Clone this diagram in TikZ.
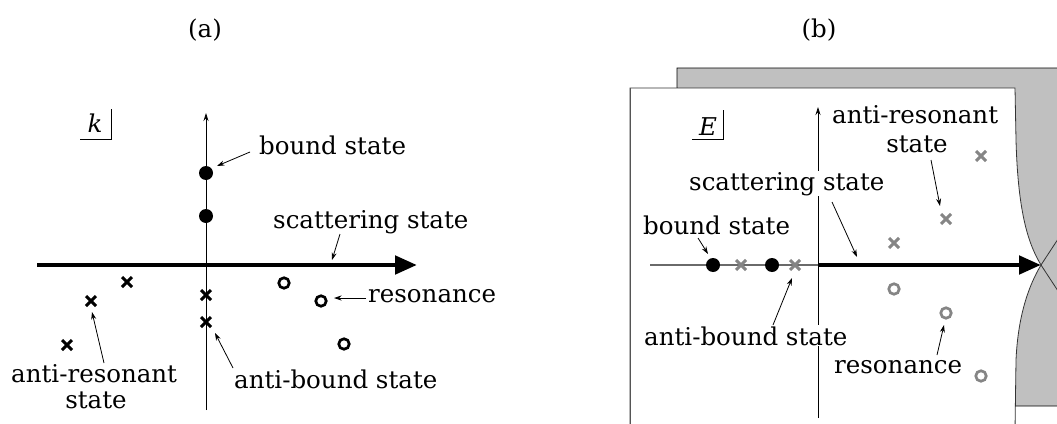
\documentclass[tikz,border=0pt]{standalone}
\usepackage{fontspec}
\setmainfont{DejaVu Serif}
\usetikzlibrary{arrows.meta,shapes.misc}
\definecolor{mk}{HTML}{858585}
\definecolor{sheet}{HTML}{C0C0C0}
\definecolor{edge}{HTML}{555555}
\begin{document}
\begin{tikzpicture}[x=1pt,y=-1pt,
  lbl/.style={font=\fontsize{24.5}{28}\selectfont, inner sep=1pt},
  wlbl/.style={lbl, fill=white},
  dot/.style={circle, fill=black, minimum size=14pt, inner sep=0pt},
  xmark/.style={cross out, draw, line width=3pt, minimum size=7pt, inner sep=0pt},
  omark/.style={circle, draw, line width=2.7pt, minimum size=10.5pt, inner sep=0pt},
  ptr/.style={-{Stealth[length=7.5pt,width=5pt]}, line width=0.8pt},
  axis/.style={-{Stealth[length=8pt,width=5pt]}, line width=0.8pt},
  bigarrow/.style={-{Triangle[length=22pt,width=18pt]}, line width=4.8pt},
]
\useasboundingbox (0,0) rectangle (1057,423);
\begin{scope}
\clip (0,0) rectangle (1057,423);
% ---------- panel labels
\node[lbl, anchor=base] (ta) at (205,37) {(a)};
\node[lbl, anchor=base] (tb) at (819,37) {(b)};

% ================= panel (a) =================
\coordinate (aybot) at (206,410);
\coordinate (aytop) at (206,113);
\coordinate (axl) at (37,265);
\coordinate (axr) at (417,265);
\draw[axis] (aybot) -- (aytop);
\draw[bigarrow] (axl) -- (axr);
% k label
\node[lbl, anchor=base] (klab) at (95,132) {\textit{k}};
\coordinate (kb1) at (80,139);
\coordinate (kb2) at (111,139);
\coordinate (kb3) at (111,109);
\draw[line width=0.8pt] (kb1) -- (kb2) -- (kb3);
% markers
\node[dot] (ab1) at (206,173) {};
\node[dot] (ab2) at (206,216) {};
\node[xmark] (ax1) at (127,282) {};
\node[xmark] (ax2) at (91,301) {};
\node[xmark] (ax3) at (67,345) {};
\node[xmark] (ax4) at (206,295) {};
\node[xmark] (ax5) at (206,322) {};
\node[omark] (ao1) at (284,283) {};
\node[omark] (ao2) at (321,301) {};
\node[omark] (ao3) at (344,344) {};
% texts
\node[lbl, anchor=base west] (abound) at (258,154) {bound state};
\node[lbl, anchor=base west] (ascat) at (272,228) {scattering state};
\node[lbl, anchor=base west] (ares) at (367,302) {resonance};
\node[lbl, anchor=base west] (aanti) at (10,382) {anti-resonant};
\node[lbl, anchor=base] (aanti2) at (96,408) {state};
\node[lbl, anchor=base west] (aab) at (233,388) {anti-bound state};
% pointers
\coordinate (p1s) at (250,152); \coordinate (p1e) at (217,166);
\coordinate (p2s) at (340,234); \coordinate (p2e) at (332,260);
\coordinate (p3s) at (366,298); \coordinate (p3e) at (334,298);
\coordinate (p4s) at (104,363); \coordinate (p4e) at (92,312);
\coordinate (p5s) at (233,368); \coordinate (p5e) at (215,333);
\draw[ptr] (p1s) -- (p1e);
\draw[ptr] (p2s) -- (p2e);
\draw[ptr] (p3s) -- (p3e);
\draw[ptr] (p4s) -- (p4e);
\draw[ptr] (p5s) -- (p5e);

% ================= panel (b) =================
% back sheet
\filldraw[fill=sheet, draw=black, line width=0.8pt]
  (677,88) -- (677,68) -- (1065,68) -- (1065,406) -- (1015,406) -- cycle;
% front sheet
\coordinate (pinch) at (1041,265);
\filldraw[fill=white, draw=black!80, line width=0.8pt]
  (630,430) -- (630,88) -- (1015,88) -- (1016,140)
  .. controls (1018,215) and (1029,245) .. (pinch)
  .. controls (1029,285) and (1018,315) .. (1016,360) -- (1015,430);
\coordinate (pu) at (1060,236);
\coordinate (pd) at (1060,294);
\draw[black!80, line width=0.8pt] (pinch) -- (pu);
\draw[black!80, line width=0.8pt] (pinch) -- (pd);
\draw[edge, line width=0.8pt] (630,430) -- (630,88);
% axes
\coordinate (bybot) at (818,418);
\coordinate (bytop) at (818,107);
\coordinate (bxl) at (650,265);
\coordinate (bx0) at (818,265);
\draw[axis] (bybot) -- (bytop);
\draw[mk!80!black, line width=1.2pt] (bxl) -- (bx0);
\draw[bigarrow] (bx0) -- (pinch);
% E label
\node[lbl, anchor=base] (elab) at (708,135) {\textit{E}};
\coordinate (eb1) at (692,139);
\coordinate (eb2) at (723,139);
\coordinate (eb3) at (723,110);
\draw[line width=0.8pt] (eb1) -- (eb2) -- (eb3);
% markers
\node[dot] (bb1) at (713,265) {};
\node[dot] (bb2) at (772,265) {};
\node[xmark, mk] (bx1) at (741,265) {};
\node[xmark, mk] (bx2) at (795,265) {};
\node[xmark, mk] (bx3) at (981,156) {};
\node[xmark, mk] (bx4) at (946,219) {};
\node[xmark, mk] (bx5) at (894,243) {};
\node[omark, mk] (bo1) at (894,289) {};
\node[omark, mk] (bo2) at (946,313) {};
\node[omark, mk] (bo3) at (981,376) {};
% texts
\node[lbl, anchor=base west] (banti) at (831,123) {anti-resonant};
\node[lbl, anchor=base] (banti2) at (917,152) {state};
\node[wlbl, anchor=base west] (bscat) at (688,190) {scattering state};
\node[lbl, anchor=base west] (bbound) at (642,234) {bound state};
\node[wlbl, anchor=base west] (bab) at (643,345) {anti-bound state};
\node[lbl, anchor=base west] (bres) at (833,373) {resonance};
% pointers
\coordinate (q1s) at (698,238); \coordinate (q1e) at (708,254);
\coordinate (q2s) at (832,202); \coordinate (q2e) at (857,257);
\coordinate (q3s) at (931,160); \coordinate (q3e) at (940,206);
\coordinate (q4s) at (773,325); \coordinate (q4e) at (792,278);
\coordinate (q5s) at (937,355); \coordinate (q5e) at (944,325);
\draw[ptr] (q1s) -- (q1e);
\draw[ptr] (q2s) -- (q2e);
\draw[ptr] (q3s) -- (q3e);
\draw[ptr] (q4s) -- (q4e);
\draw[ptr] (q5s) -- (q5e);
\end{scope}
\end{tikzpicture}
\end{document}
